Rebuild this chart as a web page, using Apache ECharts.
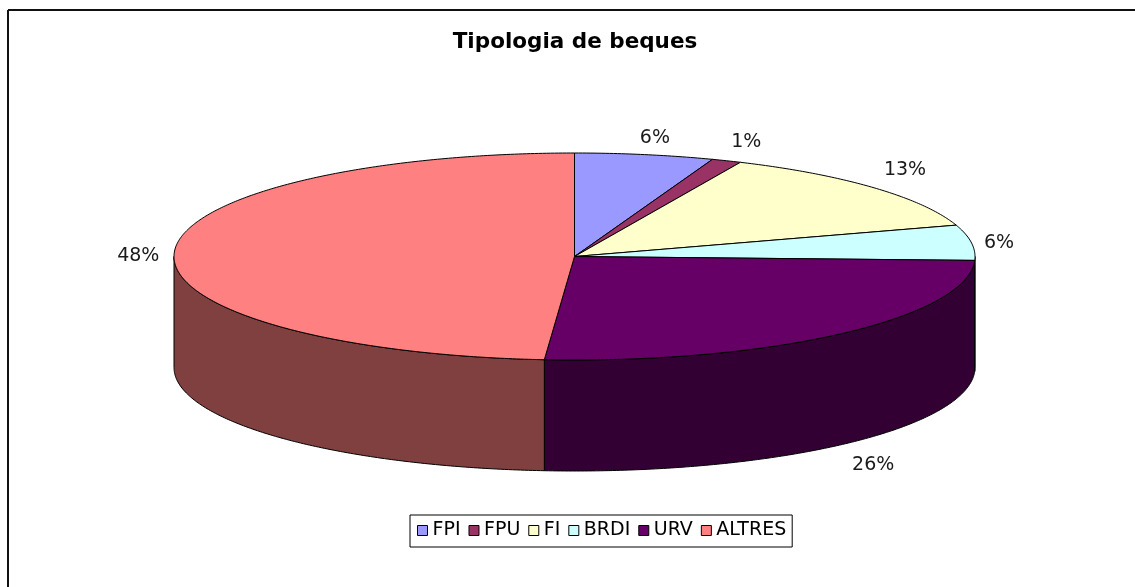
<!DOCTYPE html>
<html>
<head>
<meta charset="utf-8">
<style>html,body{margin:0;padding:0;background:#fff}#c{width:1135px;height:587px}</style>
<script src="https://cdn.jsdelivr.net/npm/echarts@6/dist/echarts.min.js"></script>
</head>
<body>
<div id="c"></div>
<script>
const categories = ['FPI', 'FPU', 'FI', 'BRDI', 'URV', 'ALTRES'];
const values = [5.6, 1.2, 13.3, 5.5, 25.6, 48.8];
const percentLabels = ['6%', '1%', '13%', '6%', '26%', '48%'];
const topColors = ['#9999FF', '#993366', '#FFFFCC', '#CCFFFF', '#660066', '#FF8080'];
const sideColors = ['#4C4C80', '#4C1933', '#808066', '#668080', '#330033', '#804040'];

const FONT = '"DejaVu Sans", Verdana, sans-serif';
const PIE = { cx: 574.5, cy: 256.5, rx: 400.5, ry: 103.5, depth: 111, lx: 36, ly: 21 };
const LABEL_NUDGE = [[4, 4], [6, 1], [4, -4], [-8, 3], [8, 5], [0, 4]];
const total = values.reduce((a, b) => a + b, 0);

function rim(theta) {
  return [PIE.cx + PIE.rx * Math.sin(theta), PIE.cy - PIE.ry * Math.cos(theta)];
}
function arc(a, b) {
  const pts = [];
  const n = Math.max(2, Math.ceil(Math.abs(b - a) / 0.01));
  for (let i = 0; i <= n; i++) pts.push(rim(a + (b - a) * i / n));
  return pts;
}
function renderSlice(index) {
  return function (params, api) {
    let before = 0;
    for (let i = 0; i < index; i++) before += values[i];
    const a = before / total * Math.PI * 2;
    const b = a + api.value(0) / total * Math.PI * 2;
    const children = [];
    const lo = Math.max(a, Math.PI / 2), hi = Math.min(b, Math.PI * 1.5);
    if (hi > lo) {
      const top = arc(lo, hi);
      const bottom = top.map(p => [p[0], p[1] + PIE.depth]).reverse();
      children.push({
        type: 'polygon', silent: true, z2: 1,
        shape: { points: top.concat(bottom) },
        style: { fill: sideColors[index], stroke: '#000', lineWidth: 1 }
      });
    }
    children.push({
      type: 'polygon', silent: true, z2: 2,
      shape: { points: [[PIE.cx, PIE.cy]].concat(arc(a, b)) },
      style: { fill: topColors[index], stroke: '#000', lineWidth: 1, lineJoin: 'round' }
    });
    const m = (a + b) / 2;
    const front = Math.cos(m) < -0.3;
    children.push({
      type: 'text', silent: true, z2: 3,
      style: {
        text: percentLabels[index],
        x: PIE.cx + (PIE.rx + PIE.lx) * Math.sin(m) + LABEL_NUDGE[index][0],
        y: PIE.cy - (PIE.ry + PIE.ly) * Math.cos(m) + (front ? PIE.depth : 0) + LABEL_NUDGE[index][1],
        align: 'center', verticalAlign: 'middle',
        font: '19px ' + FONT, fill: '#1a1a1a'
      }
    });
    return { type: 'group', children };
  };
}

const chart = echarts.init(document.getElementById('c'), null, { renderer: 'canvas' });
chart.setOption({
  animation: false,
  backgroundColor: '#fff',
  title: {
    text: 'Tipologia de beques',
    left: 570, top: 26, textAlign: 'center',
    textStyle: { fontFamily: FONT, fontSize: 21.5, fontWeight: 'bold', color: '#000' }
  },
  legend: {
    left: 410, top: 515,
    data: categories,
    icon: 'rect', itemWidth: 10, itemHeight: 10, itemGap: 8,
    padding: [6, 6, 7, 7],
    borderColor: '#000', borderWidth: 1,
    selectedMode: false,
    itemStyle: { borderColor: '#000', borderWidth: 1 },
    textStyle: { fontFamily: FONT, fontSize: 19, color: '#000', padding: [0, 0, 0, 0] }
  },
  graphic: [
    { type: 'line', silent: true, shape: { x1: 8, y1: 10, x2: 1135, y2: 10 }, style: { stroke: '#111', lineWidth: 2 } },
    { type: 'line', silent: true, shape: { x1: 8, y1: 10, x2: 8, y2: 587 }, style: { stroke: '#111', lineWidth: 2 } }
  ],
  series: categories.map((name, i) => ({
    type: 'custom',
    name,
    coordinateSystem: 'none',
    itemStyle: { color: topColors[i] },
    renderItem: renderSlice(i),
    data: [[values[i]]],
    silent: true
  }))
});
</script>
</body>
</html>
